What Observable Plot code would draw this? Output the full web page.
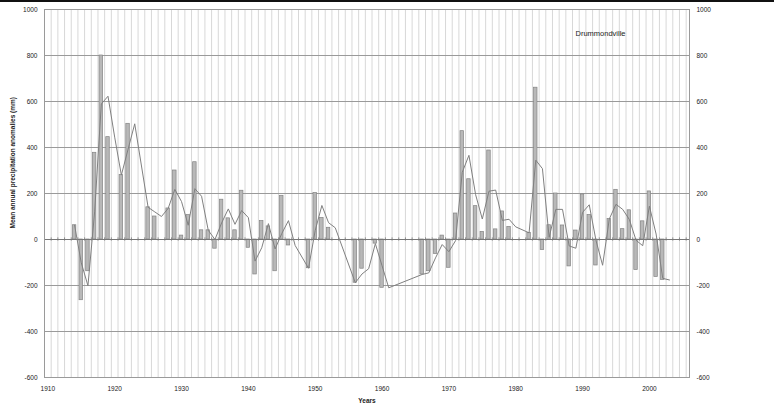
<!DOCTYPE html>
<html>
<head>
<meta charset="utf-8">
<script src="https://cdn.jsdelivr.net/npm/d3@7"></script>
<script src="https://cdn.jsdelivr.net/npm/@observablehq/plot@0.6"></script>
<style>
  html, body { margin: 0; padding: 0; background: #fff; }
  #wrap { position: relative; width: 776px; height: 412px; overflow: hidden; }
  #topline { position: absolute; left: 0; top: 0; width: 774px; height: 2px; background: #111; }
</style>
</head>
<body>
<div id="wrap"><div id="topline"></div></div>
<script>
// Annual precipitation anomaly bars (mm)
const barYears = [1914,1915,1916,1917,1918,1919,1921,1922,1925,1926,1928,1929,1930,1931,1932,1933,1934,1935,1936,1937,1938,1939,1940,1941,1942,1943,1944,1945,1946,1949,1950,1951,1952,1956,1957,1959,1960,1966,1967,1968,1969,1970,1971,1972,1973,1974,1975,1976,1977,1978,1979,1982,1983,1984,1985,1986,1987,1988,1989,1990,1991,1992,1994,1995,1996,1997,1998,1999,2000,2001,2002];
const barValues = [62,-264,-138,377,800,445,280,503,140,100,135,300,17,106,336,40,40,-40,173,92,40,212,-36,-152,80,57,-138,190,-26,-125,202,94,51,-188,-127,-18,-210,-152,-138,-63,17,-123,113,471,262,145,33,387,44,122,55,29,660,-46,62,200,61,-117,39,196,107,-113,89,216,45,127,-133,79,209,-163,-176];

// Smoothed line (mm)
const lineYears = [1914,1915,1916,1917,1918,1919,1920,1921,1922,1923,1925,1926,1927,1928,1929,1930,1931,1932,1933,1934,1935,1936,1937,1938,1939,1940,1941,1942,1943,1944,1945,1946,1947,1949,1950,1951,1952,1953,1956,1957,1958,1959,1960,1961,1966,1967,1968,1969,1970,1971,1972,1973,1974,1975,1976,1977,1978,1979,1980,1982,1983,1984,1985,1986,1987,1988,1989,1990,1991,1992,1993,1994,1995,1996,1997,1998,1999,2000,2001,2002,2003];
const lineValues = [62,-101,-201,120,589,623,445,280,392,503,140,120,100,135,218,165,62,221,188,40,0,72,133,66,126,95,-94,-36,69,-41,26,82,-26,-125,39,148,73,51,-188,-150,-127,-18,-114,-210,-152,-145,-80,-22,-53,-5,292,366,195,89,210,215,83,88,55,29,345,308,9,131,131,-28,-38,118,151,-3,-112,89,153,131,87,-3,-27,145,24,-169,-176];

// Axis ticks and labels
const xTicks = [1910,1920,1930,1940,1950,1960,1970,1980,1990,2000];
const yTicks = [-600,-400,-200,0,200,400,600,800,1000];
const stationName = "Drummondville";
const xTitle = "Years";
const yTitle = "Mean annual precipitation anomalies (mm)";

const bars = barYears.map((year, i) => ({year, value: barValues[i]}));
const line = lineYears.map((year, i) => ({year, value: lineValues[i]}));
const gridYears = d3.range(1909.5, 2006, 1);

const chart = Plot.plot({
  width: 776,
  height: 412,
  marginLeft: 44,
  marginRight: 87,
  marginTop: 9,
  marginBottom: 35,
  style: {fontFamily: "'Liberation Sans', Arial, sans-serif", fontSize: "6.5px", color: "#222", background: "transparent"},
  x: {domain: [1909.5, 2006]},
  y: {domain: [-600, 1000]},
  marks: [
    Plot.ruleX(gridYears, {stroke: "#d8d8d8", strokeWidth: 1}),
    Plot.ruleY(yTicks, {stroke: "#9a9a9a", strokeWidth: 1}),
    Plot.rectY(bars, {x1: d => d.year - 0.26, x2: d => d.year + 0.26, y1: 0, y2: "value", fill: "#b8b8b8", stroke: "#838383", strokeWidth: 0.7}),
    Plot.ruleY([0], {stroke: "#777", strokeWidth: 1}),
    Plot.ruleX(gridYears, {y1: -7, y2: 7, stroke: "#777", strokeWidth: 0.8}),
    Plot.line(line, {x: "year", y: "value", stroke: "#808080", strokeWidth: 1}),
    Plot.frame({stroke: "#9a9a9a"}),
    Plot.axisX(xTicks, {anchor: "bottom", tickSize: 0, tickPadding: 9, tickFormat: d => String(d), label: null, fill: "#222"}),
    Plot.axisY(yTicks, {anchor: "left", tickSize: 0, tickPadding: 7, tickFormat: d => String(d), label: null, fill: "#222"}),
    Plot.axisY(yTicks, {anchor: "right", tickSize: 0, tickPadding: 7, tickFormat: d => String(d), label: null, fill: "#222"}),
    Plot.text([stationName], {frameAnchor: "top-right", textAnchor: "end", dx: -64, dy: 21, fontSize: 7.5, fill: "#222"}),
    Plot.text([xTitle], {frameAnchor: "bottom", dy: 25, fontSize: 6.5, fontWeight: "bold", fill: "#222"}),
    Plot.text([yTitle], {frameAnchor: "left", dx: -32, dy: 35, rotate: -90, fontSize: 6.5, fontWeight: "bold", fill: "#222"})
  ]
});
document.getElementById("wrap").prepend(chart);
</script>
</body>
</html>
